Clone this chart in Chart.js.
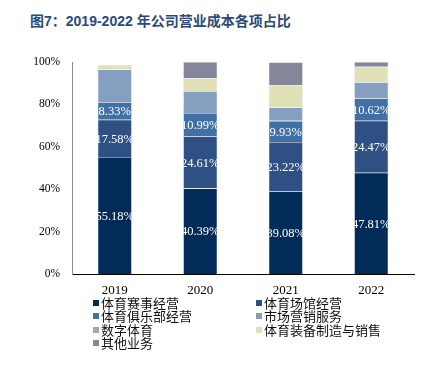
<!DOCTYPE html>
<html>
<head>
<meta charset="utf-8">
<script src="https://cdn.jsdelivr.net/npm/chart.js@4"></script>
<style>
  body { margin: 0; background: #fff; width: 423px; height: 366px; position: relative; overflow: hidden; }
  #titolo { position: absolute; left: 30px; top: 10px; font: bold 14px "Liberation Sans", "Noto Sans CJK SC", sans-serif; color: #2b4a7c; white-space: nowrap; }
  #grafico { position: absolute; left: 0; top: 0; }
  .voce { position: absolute; font: 13px "Noto Sans CJK SC", sans-serif; color: #111; white-space: nowrap; line-height: 13px; }
  .voce span { display: inline-block; width: 6px; height: 6px; margin-right: 2px; vertical-align: 2px; }
</style>
</head>
<body>
<div id="titolo">图7：2019-2022 年公司营业成本各项占比</div>
<canvas id="grafico" width="423" height="310"></canvas>
<div id="legenda"></div>
<script>
const anni = ["2019", "2020", "2021", "2022"];
const voci = ["体育赛事经营", "体育场馆经营", "体育俱乐部经营", "市场营销服务", "数字体育", "体育装备制造与销售", "其他业务"];
const eventi = [55.18, 40.39, 39.08, 47.81];
const stadi = [17.58, 24.61, 23.22, 24.47];
const club = [8.33, 10.99, 9.93, 10.62];
const marketing = [15.4, 10.3, 6.3, 7.6];
const digitale = [0, 0, 0, 0];
const attrezzature = [2.2, 6.1, 10.5, 7.3];
const altri = [0, 7.6, 10.9, 2.2];
const tickY = [0, 20, 40, 60, 80, 100];

const serie = [eventi, stadi, club, marketing, digitale, attrezzature, altri];
const colori = ["#022b57", "#2e5083", "#4170a6", "#849fc0", "#a6a6a6", "#e1e1b7", "#858699"];

const etichetteSegmenti = {
  id: "etichetteSegmenti",
  afterDatasetsDraw(chart) {
    const ctx = chart.ctx;
    ctx.save();
    ctx.font = '12.5px "Liberation Serif"';
    ctx.fillStyle = "#fff";
    ctx.textAlign = "center";
    ctx.textBaseline = "middle";
    [0, 1, 2].forEach(function (i) {
      chart.getDatasetMeta(i).data.forEach(function (bar, j) {
        const v = chart.data.datasets[i].data[j];
        ctx.fillText(v.toFixed(2) + "%", bar.x, (bar.y + bar.base) / 2 + 1);
      });
    });
    ctx.restore();
  }
};

const canvas = document.getElementById("grafico");
const grafico = new Chart(canvas, {
  type: "bar",
  data: {
    labels: anni,
    datasets: serie.map(function (d, i) {
      return {
        label: voci[i],
        data: d,
        backgroundColor: colori[i],
        borderColor: "rgba(210,218,230,0.7)",
        borderWidth: 0.6,
        barPercentage: 0.4,
        categoryPercentage: 1
      };
    })
  },
  options: {
    responsive: false,
    animation: false,
    layout: { padding: { top: 62, right: 9, left: 0, bottom: 0 } },
    plugins: { legend: { display: false }, tooltip: { enabled: false } },
    scales: {
      x: {
        stacked: true,
        grid: { display: false, drawTicks: false },
        border: { display: true, color: "#000", width: 1 },
        ticks: { color: "#000", padding: 9, font: { family: "Liberation Serif", size: 13 } },
        afterFit: function (s) { s.height = 36; }
      },
      y: {
        stacked: true,
        min: 0,
        max: 100,
        afterBuildTicks: function (s) { s.ticks = tickY.map(function (v) { return { value: v }; }); },
        grid: { display: false, drawTicks: false },
        border: { display: true, color: "#8a8a8a", width: 1 },
        ticks: {
          color: "#000",
          padding: 12,
          font: { family: "Liberation Serif", size: 11.5 },
          callback: function (v) { return v + "%"; }
        },
        afterFit: function (s) { s.width = 72; }
      }
    }
  },
  plugins: [etichetteSegmenti]
});

const legenda = document.getElementById("legenda");
voci.forEach(function (nome, i) {
  const el = document.createElement("div");
  el.className = "voce";
  el.style.left = (i % 2 === 0 ? 93 : 256) + "px";
  el.style.top = (296 + Math.floor(i / 2) * 13.4) + "px";
  el.innerHTML = '<span style="background:' + colori[i] + '"></span>' + nome;
  legenda.appendChild(el);
});
</script>
</body>
</html>
